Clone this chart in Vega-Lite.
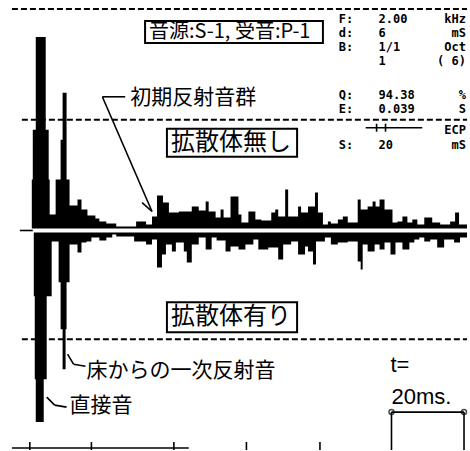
{
  "$schema": "https://vega.github.io/schema/vega-lite/v6.json",
  "width": 470,
  "height": 451,
  "autosize": {"type": "fit", "contains": "padding"},
  "padding": 0,
  "background": "white",
  "config": {"view": {"stroke": null}},
  "datasets": {
    "dashed": [
      {"x": 12, "x2": 470, "y": 9, "y2": 9},
      {"x": 22, "x2": 470, "y": 120, "y2": 120},
      {"x": 22, "x2": 470, "y": 340, "y2": 340}
    ],
    "upper": [
      {"x": 32, "y": 180}, {"x": 33, "y": 130}, {"x": 36, "y": 37}, {"x": 46, "y": 130},
      {"x": 49, "y": 180}, {"x": 50, "y": 215}, {"x": 56, "y": 180}, {"x": 61, "y": 140},
      {"x": 63, "y": 93}, {"x": 67, "y": 180}, {"x": 70, "y": 206}, {"x": 78, "y": 200},
      {"x": 82, "y": 210}, {"x": 88, "y": 216}, {"x": 96, "y": 219}, {"x": 100, "y": 222},
      {"x": 107, "y": 224}, {"x": 117, "y": 227}, {"x": 137, "y": 222}, {"x": 147, "y": 225},
      {"x": 153, "y": 217}, {"x": 158, "y": 196}, {"x": 164, "y": 203}, {"x": 170, "y": 213},
      {"x": 180, "y": 212}, {"x": 193, "y": 207}, {"x": 200, "y": 211}, {"x": 207, "y": 202},
      {"x": 210, "y": 212}, {"x": 217, "y": 218}, {"x": 222, "y": 210}, {"x": 225, "y": 218},
      {"x": 232, "y": 197}, {"x": 240, "y": 215}, {"x": 243, "y": 223}, {"x": 250, "y": 212},
      {"x": 257, "y": 220}, {"x": 263, "y": 221}, {"x": 273, "y": 213}, {"x": 277, "y": 210},
      {"x": 280, "y": 217}, {"x": 287, "y": 190}, {"x": 290, "y": 217}, {"x": 300, "y": 207},
      {"x": 303, "y": 213}, {"x": 310, "y": 207}, {"x": 317, "y": 193}, {"x": 320, "y": 213},
      {"x": 325, "y": 225}, {"x": 330, "y": 222}, {"x": 333, "y": 224}, {"x": 340, "y": 220},
      {"x": 345, "y": 217}, {"x": 350, "y": 223}, {"x": 360, "y": 200}, {"x": 363, "y": 210},
      {"x": 370, "y": 207}, {"x": 375, "y": 202}, {"x": 378, "y": 207}, {"x": 382, "y": 200},
      {"x": 387, "y": 210}, {"x": 395, "y": 223}, {"x": 400, "y": 222}, {"x": 405, "y": 217},
      {"x": 410, "y": 223}, {"x": 415, "y": 220}, {"x": 420, "y": 225}, {"x": 427, "y": 218},
      {"x": 435, "y": 223}, {"x": 443, "y": 225}, {"x": 453, "y": 222}, {"x": 458, "y": 213},
      {"x": 462, "y": 225}, {"x": 470, "y": 225}
    ],
    "lower": [
      {"x": 34, "y": 297}, {"x": 35, "y": 380}, {"x": 36, "y": 423}, {"x": 44, "y": 380},
      {"x": 47, "y": 297}, {"x": 52, "y": 242}, {"x": 59, "y": 283}, {"x": 61, "y": 330},
      {"x": 63, "y": 370}, {"x": 66, "y": 330}, {"x": 67, "y": 283}, {"x": 70, "y": 245},
      {"x": 78, "y": 253}, {"x": 82, "y": 243}, {"x": 87, "y": 242}, {"x": 92, "y": 238},
      {"x": 100, "y": 241}, {"x": 107, "y": 238}, {"x": 113, "y": 235}, {"x": 117, "y": 237},
      {"x": 135, "y": 242}, {"x": 147, "y": 245}, {"x": 153, "y": 240}, {"x": 158, "y": 268},
      {"x": 163, "y": 255}, {"x": 167, "y": 245}, {"x": 173, "y": 252}, {"x": 177, "y": 243},
      {"x": 185, "y": 252}, {"x": 188, "y": 263}, {"x": 193, "y": 245}, {"x": 200, "y": 238},
      {"x": 207, "y": 250}, {"x": 213, "y": 238}, {"x": 218, "y": 241}, {"x": 227, "y": 252},
      {"x": 232, "y": 247}, {"x": 240, "y": 250}, {"x": 247, "y": 245}, {"x": 255, "y": 240},
      {"x": 260, "y": 250}, {"x": 270, "y": 248}, {"x": 280, "y": 260}, {"x": 285, "y": 245},
      {"x": 293, "y": 242}, {"x": 300, "y": 255}, {"x": 307, "y": 247}, {"x": 310, "y": 252},
      {"x": 315, "y": 265}, {"x": 318, "y": 242}, {"x": 327, "y": 238}, {"x": 333, "y": 245},
      {"x": 340, "y": 243}, {"x": 350, "y": 242}, {"x": 360, "y": 262}, {"x": 363, "y": 270},
      {"x": 365, "y": 245}, {"x": 370, "y": 252}, {"x": 377, "y": 245}, {"x": 382, "y": 250},
      {"x": 387, "y": 243}, {"x": 393, "y": 255}, {"x": 398, "y": 243}, {"x": 405, "y": 250},
      {"x": 412, "y": 243}, {"x": 417, "y": 240}, {"x": 422, "y": 238}, {"x": 427, "y": 242},
      {"x": 433, "y": 240}, {"x": 440, "y": 248}, {"x": 447, "y": 240}, {"x": 457, "y": 243},
      {"x": 463, "y": 238}, {"x": 470, "y": 238}
    ],
    "lines": [
      {"x": 20, "x2": 33, "y": 231, "y2": 231},
      {"x": 103, "x2": 126, "y": 97, "y2": 97},
      {"x": 103, "x2": 153, "y": 97, "y2": 212},
      {"x": 143, "x2": 153, "y": 203, "y2": 212},
      {"x": 68, "x2": 74, "y": 355, "y2": 365},
      {"x": 74, "x2": 86, "y": 365, "y2": 367},
      {"x": 47, "x2": 55, "y": 398, "y2": 406},
      {"x": 55, "x2": 67, "y": 406, "y2": 408},
      {"x": 394, "x2": 467, "y": 413, "y2": 413},
      {"x": 394, "x2": 394, "y": 413, "y2": 451},
      {"x": 467, "x2": 467, "y": 413, "y2": 451},
      {"x": 12, "x2": 190, "y": 449, "y2": 449},
      {"x": 30, "x2": 30, "y": 443, "y2": 451},
      {"x": 92, "x2": 92, "y": 443, "y2": 451},
      {"x": 175, "x2": 175, "y": 443, "y2": 451},
      {"x": 248, "x2": 248, "y": 443, "y2": 451},
      {"x": 322, "x2": 322, "y": 443, "y2": 451},
      {"x": 368, "x2": 425, "y": 128, "y2": 128},
      {"x": 379, "x2": 379, "y": 124, "y2": 132},
      {"x": 388, "x2": 388, "y": 124, "y2": 132}
    ],
    "boxes": [
      {"x": 146, "x2": 325, "y": 21, "y2": 43},
      {"x": 168, "x2": 299, "y": 129, "y2": 157},
      {"x": 168, "x2": 299, "y": 303, "y2": 333}
    ],
    "dots": [
      {"x": 394, "y": 413}, {"x": 467, "y": 413}
    ],
    "boxlabel_small": [
      {"x": 150, "y": 32, "label": "音源:S-1, 受音:P-1"}
    ],
    "boxlabel_big": [
      {"x": 172, "y": 143, "label": "拡散体無し"},
      {"x": 172, "y": 318, "label": "拡散体有り"}
    ],
    "notes": [
      {"x": 131, "y": 98, "label": "初期反射音群"},
      {"x": 87, "y": 372, "label": "床からの一次反射音"},
      {"x": 70, "y": 407, "label": "直接音"}
    ],
    "scale_note": [
      {"x": 393, "y": 366, "label": "t="},
      {"x": 394, "y": 398, "label": "20ms."}
    ],
    "info_left": [
      {"x": 341, "y": 19, "label": "F:"},
      {"x": 341, "y": 33, "label": "d:"},
      {"x": 341, "y": 47, "label": "B:"},
      {"x": 341, "y": 95, "label": "Q:"},
      {"x": 341, "y": 109, "label": "E:"},
      {"x": 341, "y": 145, "label": "S:"},
      {"x": 381, "y": 19, "label": "2.00"},
      {"x": 381, "y": 33, "label": "6"},
      {"x": 381, "y": 47, "label": "1/1"},
      {"x": 381, "y": 61, "label": "1"},
      {"x": 381, "y": 95, "label": "94.38"},
      {"x": 381, "y": 109, "label": "0.039"},
      {"x": 381, "y": 145, "label": "20"}
    ],
    "info_right": [
      {"x": 469, "y": 19, "label": "kHz"},
      {"x": 469, "y": 33, "label": "mS"},
      {"x": 469, "y": 47, "label": "Oct"},
      {"x": 469, "y": 61, "label": "( 6)"},
      {"x": 469, "y": 95, "label": "%"},
      {"x": 469, "y": 109, "label": "S"},
      {"x": 469, "y": 130, "label": "ECP"},
      {"x": 469, "y": 145, "label": "mS"}
    ]
  },
  "encoding": {
    "x": {"field": "x", "type": "quantitative", "scale": {"domain": [0, 470], "nice": false, "zero": false}, "axis": null},
    "y": {"field": "y", "type": "quantitative", "scale": {"domain": [0, 451], "nice": false, "zero": false, "reverse": true}, "axis": null}
  },
  "layer": [
    {
      "data": {"name": "dashed"},
      "mark": {"type": "rule", "color": "black", "strokeWidth": 2, "strokeDash": [6, 3]},
      "encoding": {"x2": {"field": "x2"}, "y2": {"field": "y2"}}
    },
    {
      "data": {"name": "upper"},
      "mark": {"type": "area", "orient": "vertical", "interpolate": "step-after", "color": "black", "opacity": 1},
      "encoding": {"y2": {"datum": 229}}
    },
    {
      "data": {"name": "lower"},
      "mark": {"type": "area", "orient": "vertical", "interpolate": "step-after", "color": "black", "opacity": 1},
      "encoding": {"y2": {"datum": 233}}
    },
    {
      "data": {"name": "lines"},
      "mark": {"type": "rule", "color": "black", "strokeWidth": 1.6},
      "encoding": {"x2": {"field": "x2"}, "y2": {"field": "y2"}}
    },
    {
      "data": {"name": "boxes"},
      "mark": {"type": "rect", "fill": "white", "stroke": "black", "strokeWidth": 2},
      "encoding": {"x2": {"field": "x2"}, "y2": {"field": "y2"}}
    },
    {
      "data": {"name": "dots"},
      "mark": {"type": "point", "shape": "circle", "filled": false, "stroke": "black", "strokeWidth": 1.5, "size": 25},
      "encoding": {}
    },
    {
      "data": {"name": "boxlabel_small"},
      "mark": {"type": "text", "align": "left", "baseline": "middle", "font": "Noto Sans CJK JP", "fontSize": 20, "color": "black"},
      "encoding": {"text": {"field": "label"}}
    },
    {
      "data": {"name": "boxlabel_big"},
      "mark": {"type": "text", "align": "left", "baseline": "middle", "font": "Noto Sans CJK JP", "fontSize": 24, "color": "black"},
      "encoding": {"text": {"field": "label"}}
    },
    {
      "data": {"name": "notes"},
      "mark": {"type": "text", "align": "left", "baseline": "middle", "font": "Noto Sans CJK JP", "fontSize": 21, "color": "black"},
      "encoding": {"text": {"field": "label"}}
    },
    {
      "data": {"name": "scale_note"},
      "mark": {"type": "text", "align": "left", "baseline": "middle", "font": "Liberation Sans", "fontSize": 22, "color": "black"},
      "encoding": {"text": {"field": "label"}}
    },
    {
      "data": {"name": "info_left"},
      "mark": {"type": "text", "align": "left", "baseline": "middle", "font": "DejaVu Sans Mono", "fontWeight": "bold", "fontSize": 12, "color": "black"},
      "encoding": {"text": {"field": "label"}}
    },
    {
      "data": {"name": "info_right"},
      "mark": {"type": "text", "align": "right", "baseline": "middle", "font": "DejaVu Sans Mono", "fontWeight": "bold", "fontSize": 12, "color": "black"},
      "encoding": {"text": {"field": "label"}}
    }
  ]
}
